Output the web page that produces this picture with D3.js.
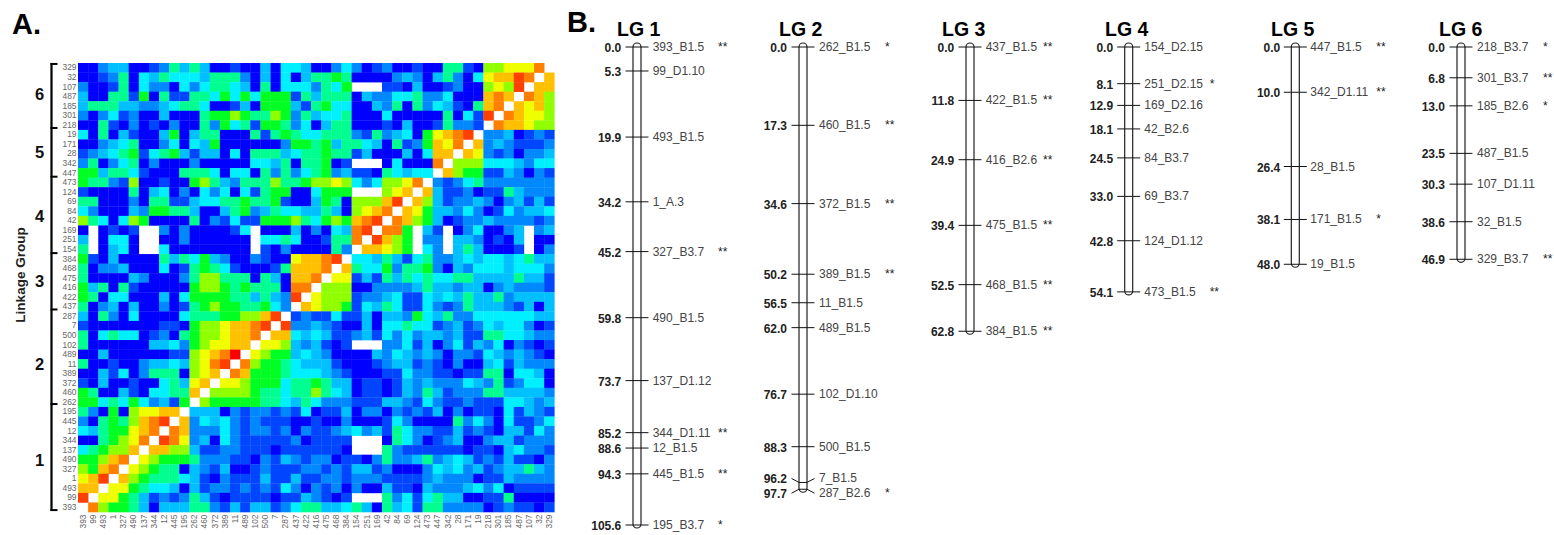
<!DOCTYPE html>
<html>
<head>
<meta charset="utf-8">
<script src="https://cdn.jsdelivr.net/npm/d3@7"></script>
<style>
  html, body { margin: 0; padding: 0; background: white; }
  text { font-family: "Liberation Sans", Arial, sans-serif; }
</style>
</head>
<body>
<div id="figure"></div>
<script>
// marker order of the heat map, bottom row / left column first
var markers = ["393","99","493","1","327","490","137","344","12","445","195",
  "262","460","372","389","11","489","102","500","7","287",
  "437","422","416","475","468","384",
  "154","251","169","42","84","69","124","473",
  "447","342","28","171","19",
  "218","301","185","487","107","32","329"];

// heat levels, top row (329) first, 0 = blue .. c = red, "." = missing
var heatRows = [
"0023300125 3530010030 44 3002420120 0100551077 888a.",
"0012504354 4435552030 40 3556500002 3203520489 9ba.9",
"2001504220 4245543050 44 42546...11 0300120078 7b.99",
"3005516051 1554646466 61 5355503224 452240009a 9.a97",
"3555332234 5540013066 63 1564400325 052431059a .9897",
"2024120030 0056676557 62 5344500040 00005041b. a9887",
"0051020102 0052645166 52 4035500010 30015221.a 99877",
"4050310036 0355000515 65 4455521523 40689ab.22 30121",
"0023450024 0436000000 26 6563554305 12698a.923 21112",
"1234561456 3133040555 34 5565513000 30499.9821 20223",
"2502450200 0200000443 50 55601...04 000a.77744 43244",
"6635541000 5554044052 52 4562311054 344.976611 32021",
"6552170010 0675325557 55 6778742477 8a.2124522 22222",
"1000050340 2042404156 60 04666...78 9.93112011 53222",
"5500020551 1344556556 10 036507779b .973122320 23131",
"4200032665 5300356235 44 33530789a. 9863324201 42334",
"7540476000 0502141166 67 546769ab.a 9763012232 22212",
"0.0101..20 2000014.00 03 02043ab.aa 6.31.02400 23.23",
"3.0440..00 2000000.44 54 00155a.b97 6.22.33201 03.00",
"5.0340..40 0000000.10 20 00052.9987 6.42.35300 01.02",
"6103000053 5463200210 08 99ab.44353 1452234344 34533",
"5022300040 1565410001 59 99a.954462 5562032444 34442",
"5000032000 2577555053 09 9a.8813153 5454455333 35331",
"6350510000 0677656555 0a a.77700222 2353323302 32221",
"6504400030 4666655353 2b .877712234 1143435335 23333",
"5023030020 1567665564 2. 9877614354 1142125333 21303",
"3052040000 455566779b .1 2114113033 2643522444 44433",
"1000000011 0677899ab. b2 2321003044 5441231243 44201",
"5045440120 5677899a.9 94 3431123142 4233231155 44322",
"5000000334 2678899.88 73 23101...22 4130241324 02101",
"0030000001 1789ac.876 63 4320000324 3232022143 23210",
"5001002334 378ab.a766 54 3331000123 3121020034 13222",
"0031402555 0789.a9666 54 4432100011 4221101155 04430",
"1030010045 389.887666 45 5653301101 3232224325 12440",
"6500310445 59.7777655 45 5754301101 3253122255 33332",
"6645464231 6.76666655 43 5422211133 2142112111 44323",
"5206078899 .333021221 21 4011302202 1213020110 41321",
"2056579ab. 9243421211 10 0100200014 2000052420 41124",
"4356689a.a 9222421221 20 2112342315 4221131210 33142",
"005678a.ba 8230421111 12 01111...05 4201230023 31222",
"456779.997 7311221110 11 11110...52 1111110110 34221",
"6679a.8766 6522211021 32 1220110252 2352343121 31102",
"769a.87655 0321300121 11 2212133120 0024342312 33532",
"89b.976555 4310211131 13 1122122211 1123222011 32222",
"99.8865443 0312212121 42 0212020031 1032223424 01111",
"b.88653121 2531011110 11 32101...52 4145330011 50000",
".a76653033 3552131331 24 5533453053 4155222201 21101"
];

var lgNames = ["LG 1","LG 2","LG 3","LG 4","LG 5","LG 6"];
var groupNumbers = ["1","2","3","4","5","6"];

var lgPositions = [
  ["0.0","5.3","19.9","34.2","45.2","59.8","73.7","85.2","88.6","94.3","105.6"],
  ["0.0","17.3","34.6","50.2","56.5","62.0","76.7","88.3","96.2","97.7"],
  ["0.0","11.8","24.9","39.4","52.5","62.8"],
  ["0.0","8.1","12.9","18.1","24.5","33.0","42.8","54.1"],
  ["0.0","10.0","26.4","38.1","48.0"],
  ["0.0","6.8","13.0","23.5","30.3","38.6","46.9"]
];
var lgMarkers = [
  ["393_B1.5","99_D1.10","493_B1.5","1_A.3","327_B3.7","490_B1.5","137_D1.12","344_D1.11","12_B1.5","445_B1.5","195_B3.7"],
  ["262_B1.5","460_B1.5","372_B1.5","389_B1.5","11_B1.5","489_B1.5","102_D1.10","500_B1.5","7_B1.5","287_B2.6"],
  ["437_B1.5","422_B1.5","416_B2.6","475_B1.5","468_B1.5","384_B1.5"],
  ["154_D2.15","251_D2.15","169_D2.16","42_B2.6","84_B3.7","69_B3.7","124_D1.12","473_B1.5"],
  ["447_B1.5","342_D1.11","28_B1.5","171_B1.5","19_B1.5"],
  ["218_B3.7","301_B3.7","185_B2.6","487_B1.5","107_D1.11","32_B1.5","329_B3.7"]
];
var lgStars = [
  ["**","","","","**","","","**","","**","*"],
  ["*","**","**","**","","","","","","*"],
  ["**","**","**","**","**","**"],
  ["","*","","","","","","**"],
  ["**","**","","*",""],
  ["*","**","*","","","","**"]
];

// layout
var chromX = [637, 803, 970, 1128.7, 1295.3, 1461];
var titleX = [617, 779, 942, 1105, 1271, 1439];
var starOffset = [81, 82, 73, 81, 81, 82];
var labelOffset = [15.7, 16, 15.7, 15.6, 15, 16];
var groupLabelY = [460, 364, 281, 216, 152, 94];
var groupEdges = [0.1, 6.8, 11.9, 19.9, 25.8, 35.7, 46.8];

var levelColors = ["#0000ff","#0044ff","#0088ff","#00c0ff","#00f0ff","#00ff90","#00ff20","#90ff00","#f0ff00","#ffc000","#ff8000","#ff4000","#ff0000"];

var svg = d3.select("#figure").append("svg")
    .attr("width", 1554)
    .attr("height", 535)
    .style("display", "block");

// the source heat map is a soft raster, a slight blur hides the cell seams
svg.append("defs").append("filter")
    .attr("id", "soft")
    .attr("filterUnits", "userSpaceOnUse")
    .attr("x", 70).attr("y", 55).attr("width", 495).attr("height", 465)
  .append("feGaussianBlur")
    .attr("stdDeviation", 0.55);

plot_heatmap();
plot_linkage_groups();

function plot_heatmap() {
    var rowNames = markers.slice().reverse();

    var x = d3.scaleBand().domain(markers).range([78, 554.3]);
    var y = d3.scaleBand().domain(rowNames).range([63, 512]);
    var rowEdge = d3.scaleLinear().domain([0, 47]).range([63, 512]);
    var color = d3.scaleLinear().domain(d3.range(levelColors.length)).range(levelColors);

    var cells = [];
    heatRows.forEach(function(row, i) {
        var levels = row.replace(/ /g, "").split("");
        levels.forEach(function(ch, j) {
            if (ch !== ".") {
                cells.push({row: rowNames[i], col: markers[j], level: parseInt(ch, 16)});
            }
        });
    });

    svg.append("g")
        .attr("filter", "url(#soft)")
      .selectAll("rect")
        .data(cells)
      .enter().append("rect")
        .attr("x", function(d) { return x(d.col); })
        .attr("y", function(d) { return y(d.row); })
        .attr("width", x.bandwidth() + 0.3)
        .attr("height", y.bandwidth() + 0.3)
        .style("fill", function(d) { return color(d.level); });

    var yAxis = svg.append("g")
        .attr("transform", "translate(77.5,0)")
        .call(d3.axisLeft(y).tickSize(0).tickPadding(1));
    var xAxis = svg.append("g")
        .attr("transform", "translate(0,512.5)")
        .call(d3.axisBottom(x).tickSize(0));
    yAxis.select(".domain").remove();
    xAxis.select(".domain").remove();
    yAxis.selectAll("text").style("font-size", "8.4px").style("font-family", "Liberation Sans").style("fill", "#666");
    xAxis.selectAll("text")
        .attr("transform", "rotate(-90)")
        .attr("x", -2)
        .attr("y", 0)
        .attr("dy", "0.32em")
        .style("text-anchor", "end")
        .style("font-size", "8.4px")
        .style("font-family", "Liberation Sans")
        .style("fill", "#666");

    // linkage group bracket
    svg.append("line")
        .attr("x1", 51.5).attr("x2", 51.5)
        .attr("y1", rowEdge(groupEdges[0]) - 1).attr("y2", rowEdge(groupEdges[6]) + 1)
        .style("stroke", "black").style("stroke-width", 2.2);
    svg.append("g").selectAll("line")
        .data(groupEdges)
      .enter().append("line")
        .attr("x1", 50.5).attr("x2", 57.5)
        .attr("y1", function(d) { return rowEdge(d); })
        .attr("y2", function(d) { return rowEdge(d); })
        .style("stroke", "black").style("stroke-width", 2);

    svg.append("g").selectAll("text")
        .data(groupNumbers)
      .enter().append("text")
        .attr("x", 39.5)
        .attr("y", function(d, i) { return groupLabelY[i] + 6; })
        .style("text-anchor", "middle")
        .style("font-weight", "bold")
        .style("font-size", "16.5px")
        .style("fill", "#111")
        .text(function(d) { return d; });

    svg.append("text")
        .attr("transform", "translate(25,275) rotate(-90)")
        .style("text-anchor", "middle")
        .style("font-weight", "bold")
        .style("font-size", "13.5px")
        .style("fill", "#222")
        .text("Linkage Group");

    svg.append("text")
        .attr("x", 12).attr("y", 34)
        .style("font-weight", "bold").style("font-size", "29px")
        .text("A.");
    svg.append("text")
        .attr("x", 567).attr("y", 32)
        .style("font-weight", "bold").style("font-size", "29px")
        .text("B.");
}

function plot_linkage_groups() {
    // all six maps share one cM scale
    var y = d3.scaleLinear().domain([0, 105.6]).range([47, 525]);
    var tick = d3.line().x(function(d) { return d[0]; }).y(function(d) { return d[1]; });

    lgNames.forEach(function(name, k) {
        var cx = chromX[k];
        var g = svg.append("g");
        var rows = lgPositions[k].map(function(p, i) {
            return {pos: +p, posText: p, marker: lgMarkers[k][i], stars: lgStars[k][i], spread: 0};
        });
        // the last two markers of LG 2 sit too close, their labels get pushed apart
        if (k === 1) {
            rows[8].spread = -4;
            rows[9].spread = 4;
        }

        g.append("text")
            .attr("x", titleX[k]).attr("y", 36)
            .style("font-weight", "bold").style("font-size", "19.5px")
            .text(name);

        g.append("rect")
            .attr("x", cx - 4)
            .attr("y", y(0) - 4)
            .attr("width", 8)
            .attr("height", y(rows[rows.length - 1].pos) - y(0) + 7)
            .attr("rx", 4)
            .attr("ry", 4)
            .style("fill", "white")
            .style("stroke", "#222")
            .style("stroke-width", 1.2);

        rows.forEach(function(d) {
            var ty = y(d.pos);
            var labelY = ty + d.spread;
            g.append("path")
                .attr("d", tick([[cx - 11.5, labelY], [cx - 4, ty], [cx + 4, ty], [cx + 11.5, labelY]]))
                .style("fill", "none")
                .style("stroke", "#111")
                .style("stroke-width", 1);

            g.append("text")
                .attr("x", cx - labelOffset[k]).attr("y", labelY + 5)
                .style("text-anchor", "end")
                .style("font-weight", "bold").style("font-size", "12px").style("fill", "#222")
                .text(d.posText);
            g.append("text")
                .attr("x", cx + labelOffset[k]).attr("y", labelY + 4)
                .style("font-size", "12px").style("fill", "#444")
                .text(d.marker);
            if (d.stars) {
                g.append("text")
                    .attr("x", cx + starOffset[k]).attr("y", labelY + 4)
                    .style("font-size", "12px").style("fill", "#222")
                    .text(d.stars);
            }
        });
    });
}
</script>
</body>
</html>
